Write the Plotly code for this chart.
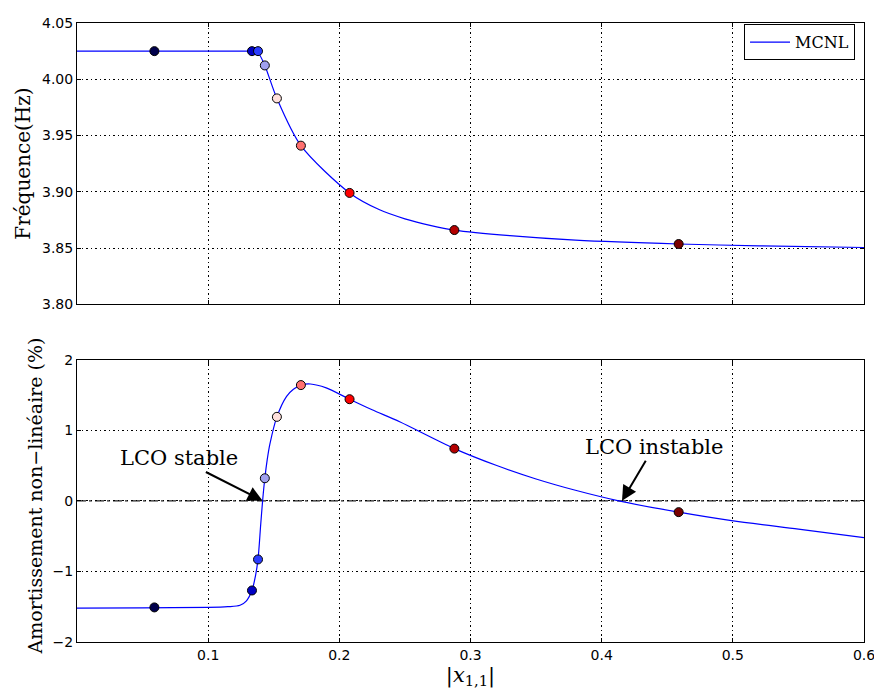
import plotly.graph_objects as go
from plotly.subplots import make_subplots

# continuous MCNL curves
freq_x = [0.0, 0.05, 0.10, 0.125, 0.133, 0.1365, 0.139, 0.1432, 0.1524, 0.1707,
          0.2078, 0.2307, 0.25, 0.27, 0.2877, 0.33, 0.38, 0.4587, 0.52, 0.6]
freq_y = [4.025, 4.025, 4.025, 4.025, 4.025, 4.0248, 4.022, 4.0123, 3.983, 3.941,
          3.899, 3.884, 3.876, 3.870, 3.866, 3.861, 3.857, 3.8536, 3.852, 3.8505]

damp_x = [0.0, 0.05, 0.10, 0.115, 0.1243, 0.129, 0.1334, 0.136, 0.138, 0.140, 0.1415, 0.1432,
          0.145, 0.147, 0.1524, 0.1598, 0.165, 0.1707, 0.178, 0.19, 0.2078, 0.225, 0.246,
          0.2877, 0.32, 0.35, 0.38, 0.413, 0.4587, 0.499, 0.55, 0.6]
damp_y = [-1.52, -1.516, -1.51, -1.50, -1.48, -1.42, -1.27, -1.07, -0.83, -0.35, 0.0, 0.32,
          0.58, 0.80, 1.19, 1.48, 1.58, 1.64, 1.655, 1.60, 1.44, 1.29, 1.12,
          0.74, 0.50, 0.31, 0.15, 0.0, -0.16, -0.28, -0.40, -0.52]

# highlighted points
pts_x = [0.059, 0.1334, 0.138, 0.1432, 0.1524, 0.1707, 0.2078, 0.2877, 0.4587]
pts_freq = [4.025, 4.025, 4.025, 4.0123, 3.983, 3.941, 3.899, 3.866, 3.8536]
pts_damp = [-1.51, -1.27, -0.83, 0.32, 1.19, 1.64, 1.44, 0.74, -0.16]
pts_colors = ["#00004c", "#0000c4", "#2a3cff", "#a0a0ee", "#ffe0dc",
              "#ff7070", "#ff0000", "#b40000", "#7a0000"]

x_ticks = [0.1, 0.2, 0.3, 0.4, 0.5, 0.6]
x_ticktext = ["0.1", "0.2", "0.3", "0.4", "0.5", "0.6"]
freq_ticks = [3.80, 3.85, 3.90, 3.95, 4.00, 4.05]
freq_ticktext = ["3.80", "3.85", "3.90", "3.95", "4.00", "4.05"]
damp_ticks = [-2, -1, 0, 1, 2]
damp_ticktext = ["\u22122", "\u22121", "0", "1", "2"]

SERIF = "DejaVu Serif"
SANS = "DejaVu Sans"
GRID_DASH = "1.5px,3px"

fig = make_subplots(rows=2, cols=1, shared_xaxes=False, vertical_spacing=0.09)

fig.add_trace(go.Scatter(x=freq_x, y=freq_y, mode="lines", name="MCNL",
                         line=dict(color="#0000ff", width=1.2, shape="spline", smoothing=0.8)),
              row=1, col=1)
fig.add_trace(go.Scatter(x=pts_x, y=pts_freq, mode="markers", showlegend=False,
                         marker=dict(color=pts_colors, size=9, line=dict(color="black", width=1))),
              row=1, col=1)
fig.add_trace(go.Scatter(x=damp_x, y=damp_y, mode="lines", showlegend=False,
                         line=dict(color="#0000ff", width=1.2, shape="spline", smoothing=0.8)),
              row=2, col=1)
fig.add_trace(go.Scatter(x=pts_x, y=pts_damp, mode="markers", showlegend=False,
                         marker=dict(color=pts_colors, size=9, line=dict(color="black", width=1))),
              row=2, col=1)

# zero line
fig.add_shape(type="line", xref="x2", yref="y2", x0=0, x1=0.6, y0=0, y1=0,
              line=dict(color="#222222", width=1.3, dash="dashdot"), layer="below")

axis_common = dict(range=[0, 0.6], tickvals=x_ticks, ticktext=x_ticktext, showline=True,
                   linecolor="black", linewidth=1, mirror="allticks", ticks="inside", ticklen=4,
                   tickcolor="black", showgrid=True, gridcolor="black", griddash=GRID_DASH,
                   gridwidth=1, zeroline=False,
                   tickfont=dict(family=SANS, size=14, color="black"))

fig.update_xaxes(**axis_common, showticklabels=False, row=1, col=1)
fig.update_xaxes(**axis_common, showticklabels=True,
                 title=dict(text="|<i>x</i><sub>1,1</sub>|", font=dict(family=SERIF, size=21, color="black"),
                            standoff=4),
                 row=2, col=1)

yaxis_common = dict(showline=True, linecolor="black", linewidth=1, mirror="allticks",
                    ticks="inside", ticklen=4, tickcolor="black", showgrid=True,
                    gridcolor="black", griddash=GRID_DASH, gridwidth=1, zeroline=False,
                    tickfont=dict(family=SANS, size=14, color="black"))
fig.update_yaxes(**yaxis_common, range=[3.80, 4.05], tickvals=freq_ticks,
                 ticktext=freq_ticktext, row=1, col=1)
fig.update_yaxes(**yaxis_common, range=[-2, 2], tickvals=damp_ticks,
                 ticktext=damp_ticktext, row=2, col=1)

fig.update_layout(
    xaxis=dict(domain=[0, 1]), xaxis2=dict(domain=[0, 1]),
    yaxis=dict(domain=[0.5455, 1.0]), yaxis2=dict(domain=[0.0, 0.4561]),
)

annotations = [
    dict(text="Fréquence(Hz)", xref="paper", yref="paper", x=0, y=0.7727, xshift=-54,
         textangle=-90, showarrow=False, font=dict(family=SERIF, size=20, color="black"),
         xanchor="center", yanchor="middle"),
    dict(text="Amortissement non\u2212linéaire (%)", xref="paper", yref="paper", x=0, y=0.235,
         xshift=-42, textangle=-90, showarrow=False,
         font=dict(family=SERIF, size=19, color="black"), xanchor="center", yanchor="middle"),
    dict(text="LCO stable", xref="x2", yref="y2", x=0.1415, y=0.0, axref="x2", ayref="y2",
         ax=0.078, ay=0.60, showarrow=True, arrowhead=2, arrowsize=1.5, arrowwidth=2,
         arrowcolor="black", font=dict(family=SERIF, size=21, color="black")),
    dict(text="LCO instable", xref="x2", yref="y2", x=0.4155, y=0.0, axref="x2", ayref="y2",
         ax=0.4397, ay=0.76, showarrow=True, arrowhead=2, arrowsize=1.5, arrowwidth=2,
         arrowcolor="black", font=dict(family=SERIF, size=21, color="black")),
]

fig.update_layout(
    width=874, height=690, autosize=False,
    margin=dict(l=69, r=16, t=7, b=56),
    plot_bgcolor="white", paper_bgcolor="white",
    annotations=annotations,
    showlegend=True,
    legend=dict(x=0.9886, y=0.998, xanchor="right", yanchor="top", bgcolor="white",
                bordercolor="black", borderwidth=1, tracegroupgap=0,
                font=dict(family=SERIF, size=16, color="black"), itemwidth=40),
)

fig.write_html("out.html")
